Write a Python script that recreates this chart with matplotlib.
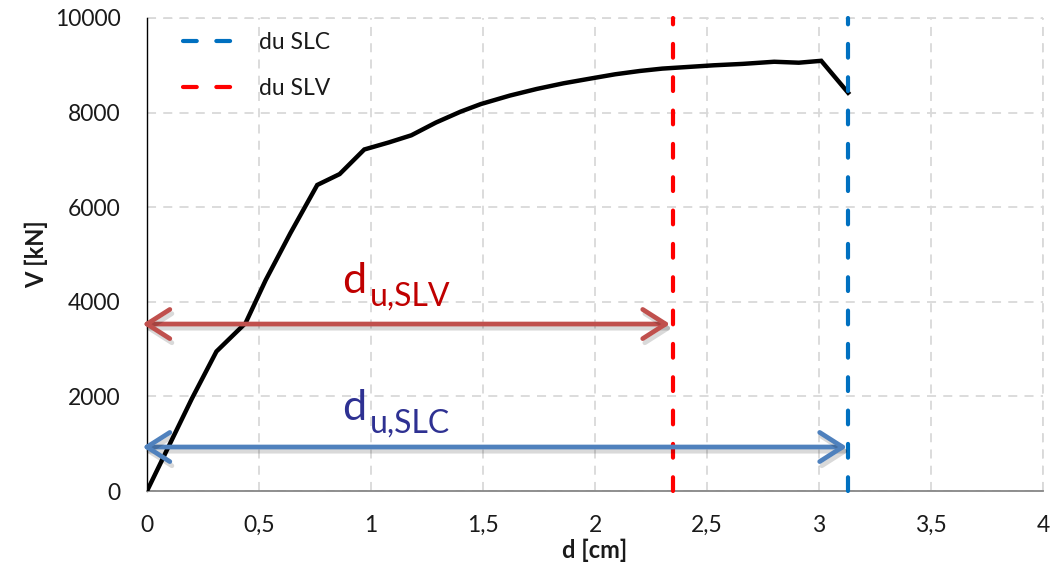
import matplotlib
matplotlib.use("Agg")
import matplotlib.pyplot as plt
from matplotlib import patheffects as pe

plt.rcParams['font.family'] = ['Lato', 'DejaVu Sans']

# Pushover curve: top displacement d [cm] vs base shear V [kN]
d_cm = [0.0, 0.20, 0.31, 0.44, 0.53, 0.64, 0.76, 0.86, 0.97, 1.08, 1.18,
        1.29, 1.40, 1.49, 1.62, 1.74, 1.86, 1.98, 2.09, 2.20, 2.30, 2.53,
        2.66, 2.80, 2.91, 3.01, 3.13]
V_kN = [0, 1950, 2950, 3550, 4460, 5450, 6470, 6700, 7220, 7370, 7520,
        7790, 8020, 8180, 8360, 8500, 8620, 8720, 8810, 8880, 8930, 9000,
        9030, 9075, 9055, 9095, 8420]

# Ultimate displacements for the two limit states
du_slv = 2.35
du_slc = 3.13

# Vertical levels of the dimension arrows and their labels
arrow_V_slv = 3530
arrow_V_slc = 930
label_slv = ("d", "u,SLV")
label_slc = ("d", "u,SLC")
label_pos_slv = (0.87, 4190)
label_pos_slc = (0.87, 1500)

x_ticks = [0, 0.5, 1, 1.5, 2, 2.5, 3, 3.5, 4]
x_ticklabels = ["0", "0,5", "1", "1,5", "2", "2,5", "3", "3,5", "4"]
y_ticks = [0, 2000, 4000, 6000, 8000, 10000]

fig = plt.figure(figsize=(10.54, 5.70), dpi=100)
ax = fig.add_axes([147 / 1054, 79 / 570, 896 / 1054, 473 / 570])

ax.set_xlim(0, 4)
ax.set_ylim(0, 10000)
ax.set_xticks(x_ticks)
ax.set_xticklabels(x_ticklabels)
ax.set_yticks(y_ticks)
ax.tick_params(length=0, labelsize=16.5, colors='#1a1a1a')
ax.tick_params(axis='y', pad=19)
ax.tick_params(axis='x', pad=17)

grid_style = dict(color='#D9D9D9', linestyle=(0, (5, 4)), linewidth=1.3)
ax.grid(True, **grid_style)
ax.set_axisbelow(True)
for side in ('top', 'right'):
    ax.spines[side].set_visible(False)
ax.spines['left'].set_color('black')
ax.spines['left'].set_linewidth(1.0)
ax.spines['bottom'].set_color('#868686')
ax.spines['bottom'].set_linewidth(1.3)
ax.plot([0, 4], [10000, 10000], zorder=0.5, clip_on=False, **grid_style)
ax.plot([4, 4], [0, 10000], zorder=0.5, clip_on=False, **grid_style)

ax.set_xlabel("d [cm]", fontsize=17, fontweight='bold', labelpad=2,
              color='#1a1a1a')
ax.set_ylabel("V [kN]", fontsize=17, fontweight='bold', labelpad=5,
              color='#1a1a1a')

# Capacity curve
ax.plot(d_cm, V_kN, color='black', linewidth=3.2, solid_joinstyle='miter',
        zorder=4)

# Limit-state displacement markers
dash = (3.3, 4.7)
ax.plot([du_slc, du_slc], [0, 10000], color='#0070C0', linewidth=3.0,
        linestyle=(0, dash), dash_capstyle='round', label='du SLC', zorder=5,
        clip_on=False)
ax.plot([du_slv, du_slv], [0, 10000], color='#FF0000', linewidth=3.0,
        linestyle=(0, dash), dash_capstyle='round', label='du SLV', zorder=5,
        clip_on=False)

leg = ax.legend(loc='upper left', bbox_to_anchor=(0.03, 0.99), frameon=False,
                fontsize=16.5, handlelength=2.55, handletextpad=0.75,
                labelspacing=1.1, borderaxespad=0)
for t in leg.get_texts():
    t.set_color('#1a1a1a')

# Dimension arrows from the origin to each ultimate displacement
shadow = [pe.SimpleLineShadow(offset=(1.5, -3), shadow_color='black',
                              alpha=0.15), pe.Normal()]
for xe, yv, col in [(du_slv - 0.015, arrow_V_slv, '#C0504D'),
                    (du_slc - 0.005, arrow_V_slc, '#4F81BD')]:
    ax.annotate("", xy=(-0.02, yv), xytext=(xe, yv),
                arrowprops=dict(arrowstyle='<->,head_length=0.55,head_width=0.35',
                                color=col, lw=3.4, shrinkA=0, shrinkB=0,
                                mutation_scale=30, capstyle='round',
                                joinstyle='round',
                                path_effects=shadow),
                annotation_clip=False, zorder=6)

# Labels of the dimension arrows: main letter plus large subscript
for (main, sub), (xl, yl), col in [(label_slv, label_pos_slv, '#C00000'),
                                   (label_slc, label_pos_slc, '#2E3192')]:
    ax.text(xl, yl, main, color=col, fontsize=31, ha='left',
            va='baseline', zorder=7)
    ax.annotate(sub, xy=(xl, yl), xytext=(20, -9), textcoords='offset points',
                color=col, fontsize=23, ha='left', va='baseline', zorder=7)

fig.savefig("out.png", dpi=100)
